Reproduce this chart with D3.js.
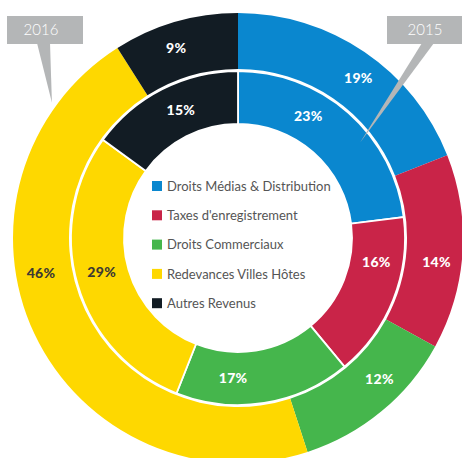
<!DOCTYPE html>
<html>
<head>
<meta charset="utf-8">
<script src="https://cdn.jsdelivr.net/npm/d3@7"></script>
<style>
  html, body { margin: 0; padding: 0; background: #fff; }
  svg { display: block; }
</style>
</head>
<body>
<svg id="chart" width="462" height="458"></svg>
<script>
// Revenue breakdown, two concentric rings: 2015 (inner) and 2016 (outer)
const categories = [
  "Droits Médias & Distribution",
  "Taxes d'enregistrement",
  "Droits Commerciaux",
  "Redevances Villes Hôtes",
  "Autres Revenus"
];
const values2016 = [19, 14, 12, 46, 9];
const values2015 = [23, 16, 17, 29, 15];
const years = ["2016", "2015"];
const colors = ["#0a87cf", "#c92448", "#45b64c", "#fed800", "#121c24"];

// Where each percentage label sits along its ring (degrees clockwise from 12 o'clock)
const labelAngles2016 = [37, 97, 135, 260, 342];
const labelAngles2015 = [30, 100, 182, 256, 336];

const width = 462, height = 458;
const cx = 238, cy = 238;
const ring = {
  outer: { inner: 169, outer: 225 },
  inner: { inner: 114, outer: 167 }
};

const svg = d3.select("#chart");
const g = svg.append("g").attr("transform", `translate(${cx},${cy})`);

const color = d3.scaleOrdinal().domain(categories).range(colors);
const pie = d3.pie().sort(null).value(d => d.value);

function ringData(vals) {
  return pie(categories.map((c, i) => ({ cat: c, value: vals[i] })));
}

function polar(deg, r) {
  const a = deg * Math.PI / 180;
  return [r * Math.sin(a), -r * Math.cos(a)];
}

function drawRing(vals, radii, stroke, angles, cls) {
  const arc = d3.arc().innerRadius(radii.inner).outerRadius(radii.outer);
  const data = ringData(vals);
  const layer = g.append("g").attr("class", cls);
  layer.selectAll("path")
    .data(data)
    .join("path")
    .attr("d", arc)
    .attr("fill", d => color(d.data.cat))
    .attr("stroke", stroke ? "#fff" : "none")
    .attr("stroke-width", stroke ? 1.8 : 0);

  const rl = (radii.inner + radii.outer) / 2 + (cls === "outer" ? 3 : 0);
  layer.selectAll("text")
    .data(data)
    .join("text")
    .attr("transform", (d, i) => `translate(${polar(angles[i], rl)})`)
    .attr("text-anchor", "middle")
    .attr("dy", "0.36em")
    .attr("font-family", "Lato, 'Open Sans', sans-serif")
    .attr("font-weight", 900)
    .attr("font-size", 14)
    .attr("letter-spacing", 0.3)
    .attr("fill", d => d.data.cat === "Redevances Villes Hôtes" ? "#3d3a33" : "#ffffff")
    .text(d => d.data.value + "%");
}

drawRing(values2016, ring.outer, false, labelAngles2016, "outer");
drawRing(values2015, ring.inner, true, labelAngles2015, "inner");

// Legend in the hole of the donut
const legend = svg.append("g").attr("transform", "translate(152,186)");
const rows = legend.selectAll("g")
  .data(categories)
  .join("g")
  .attr("transform", (d, i) => `translate(0,${i * 29.3})`);
rows.append("rect")
  .attr("x", 0).attr("y", -5)
  .attr("width", 10).attr("height", 10)
  .attr("fill", d => color(d));
rows.append("text")
  .attr("x", 15)
  .attr("dy", "0.36em")
  .attr("font-family", "Lato, 'Open Sans', sans-serif")
  .attr("font-size", 13)
  .attr("fill", "#555")
  .text(d => d);

// Year callouts: grey tag with a pointer reaching its ring
const callouts = [
  { year: years[0], box: [7, 16, 76, 28], base: [37, 50], tip: polar(306, 230), textX: 41 },
  { year: years[1], box: [387, 16, 76, 28], base: [422, 434], tip: polar(52, 155), textX: 425 }
];
const tagColor = "#b4b6b7";
callouts.forEach(c => {
  const [x, y, w, h] = c.box;
  const tip = [cx + c.tip[0], cy + c.tip[1]];
  svg.append("path")
    .attr("d", `M${c.base[0]},${y + h - 1} L${c.base[1]},${y + h - 1} L${tip[0]},${tip[1]} Z`)
    .attr("fill", tagColor);
  svg.append("rect")
    .attr("x", x).attr("y", y).attr("width", w).attr("height", h)
    .attr("fill", tagColor);
  svg.append("text")
    .attr("x", c.textX).attr("y", y + h / 2)
    .attr("dy", "0.36em")
    .attr("text-anchor", "middle")
    .attr("font-family", "Lato, 'Open Sans', sans-serif")
    .attr("font-weight", 300)
    .attr("font-size", 15)
    .attr("fill", "#ffffff")
    .text(c.year);
});
</script>
</body>
</html>
